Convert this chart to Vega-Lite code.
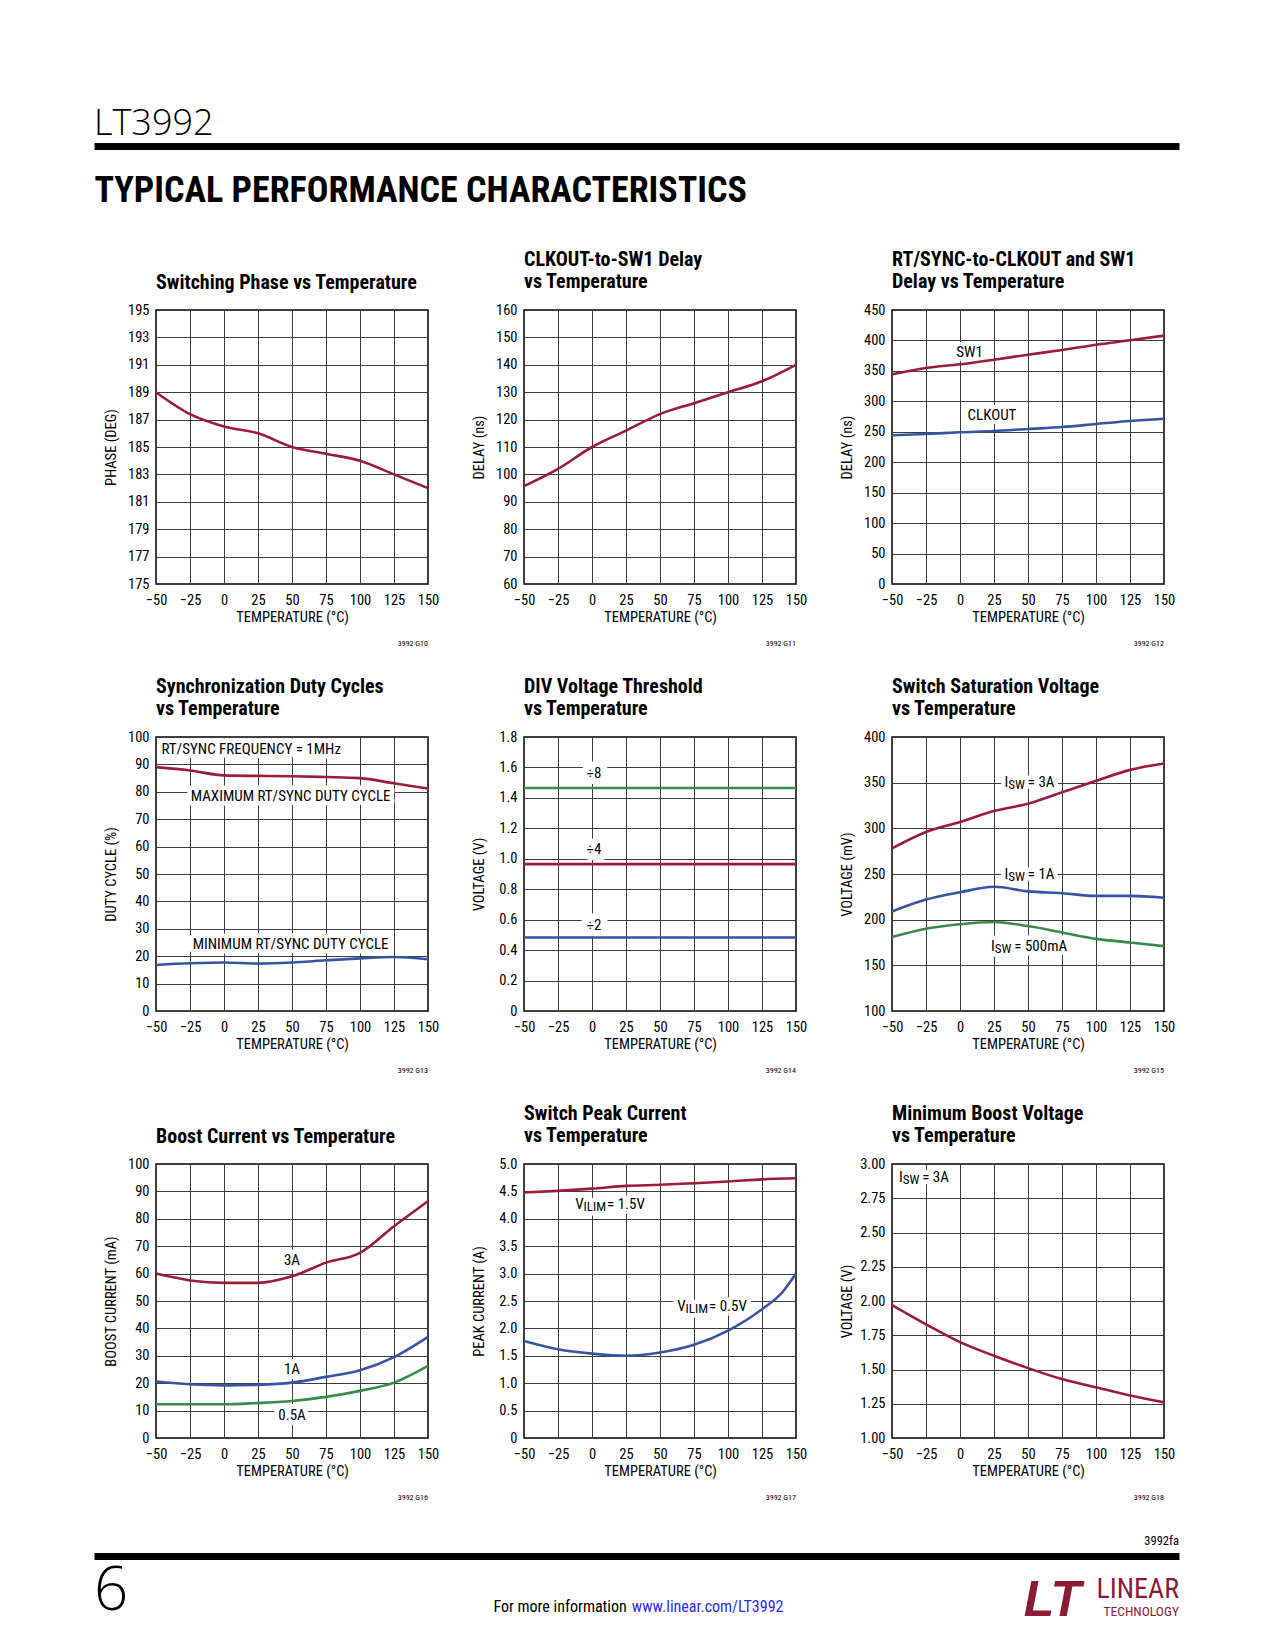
{
  "$schema": "https://vega.github.io/schema/vega-lite/v6.json",
  "background": "white",
  "padding": {"left": 94, "top": 106, "right": 10, "bottom": 10},
  "spacing": 41,
  "config": {
    "font": "Liberation Sans Narrow, Roboto Condensed, Noto Sans Condensed, DejaVu Sans Condensed, sans-serif",
    "view": {"stroke": "#000000", "strokeWidth": 1.5},
    "axis": {"grid": true, "gridColor": "#3c3c3c", "gridWidth": 1, "domain": false, "ticks": false, "labelFontSize": 14.5, "labelColor": "#000000", "titleFontSize": 14.5, "titleFontWeight": "normal", "titleColor": "#000000", "labelOverlap": false, "labelFlush": false, "labelBound": false},
    "axisX": {"labelPadding": 9, "titlePadding": 4, "labelAngle": 0},
    "axisY": {"labelPadding": 7, "titlePadding": 3, "minExtent": 35, "maxExtent": 35},
    "title": {"anchor": "start", "frame": "group", "fontSize": 20, "fontWeight": "bold", "lineHeight": 22.6, "offset": 9.5, "color": "#000000"},
    "line": {"strokeWidth": 2.6, "interpolate": "monotone"},
    "text": {"fontSize": 15, "color": "#000000"}
  },
  "vconcat": [
    {
      "width": 1085, "height": 4,
      "view": {"stroke": null},
      "title": {"text": "LT3992", "font": "Open Sans", "fontWeight": 300, "fontSize": 36, "anchor": "start", "frame": "group", "offset": -1},
      "data": {"values": [{"page": 0}]},
      "mark": {"type": "point", "opacity": 0, "size": 0},
      "encoding": {
        "x": {"field": "page", "type": "quantitative", "scale": {"domain": [0, 1]},
          "axis": {"orient": "bottom", "grid": false, "labels": false, "ticks": false, "domain": true, "domainColor": "#000000", "domainWidth": 7, "title": "TYPICAL PERFORMANCE CHARACTERISTICS", "titleFontSize": 36, "titleFontWeight": "bold", "titleAnchor": "start", "titleAlign": "left", "titlePadding": 27, "minExtent": 0, "maxExtent": 0}}
      }
    },
    {
      "vconcat": [
        {
          "hconcat": [
            {"width": 1, "height": 1, "view": {"stroke": null}, "data": {"values": [{"s": 0}]}, "mark": {"type": "point", "opacity": 0, "size": 0}, "encoding": {}},
            {
              "concat": [
                {
                  "width": 272, "height": 274,
                  "title": {"text": ["Switching Phase vs Temperature"]},
                  "encoding": {
                    "x": {"field": "t", "type": "quantitative", "scale": {"domain": [-50, 150], "nice": false}, "axis": {"values": [-50, -25, 0, 25, 50, 75, 100, 125, 150], "title": "TEMPERATURE (°C)"}},
                    "y": {"field": "v", "type": "quantitative", "scale": {"domain": [175, 195], "nice": false, "zero": false}, "axis": {"values": [175, 177, 179, 181, 183, 185, 187, 189, 191, 193, 195], "title": "PHASE (DEG)"}}
                  },
                  "layer": [
                    {"data": {"values": [{"t": -50, "v": 189}, {"t": -25, "v": 187.4}, {"t": 0, "v": 186.5}, {"t": 25, "v": 186}, {"t": 50, "v": 185}, {"t": 75, "v": 184.5}, {"t": 100, "v": 184}, {"t": 125, "v": 183}, {"t": 150, "v": 182}]},
                      "mark": {"type": "line", "color": "#9b1b3b"}},
                    {"data": {"values": [{"t": 150, "v": 175, "code": "3992 G10"}]}, "mark": {"type": "text", "align": "right", "baseline": "middle", "fontSize": 8, "dy": 60},
                      "encoding": {"text": {"field": "code"}}}
                  ]
                },
                {
                  "width": 272, "height": 274,
                  "title": {"text": ["CLKOUT-to-SW1 Delay", "vs Temperature"]},
                  "encoding": {
                    "x": {"field": "t", "type": "quantitative", "scale": {"domain": [-50, 150], "nice": false}, "axis": {"values": [-50, -25, 0, 25, 50, 75, 100, 125, 150], "title": "TEMPERATURE (°C)"}},
                    "y": {"field": "v", "type": "quantitative", "scale": {"domain": [60, 160], "nice": false, "zero": false}, "axis": {"values": [60, 70, 80, 90, 100, 110, 120, 130, 140, 150, 160], "title": "DELAY (ns)"}}
                  },
                  "layer": [
                    {"data": {"values": [{"t": -50, "v": 95.7}, {"t": -25, "v": 102}, {"t": 0, "v": 110}, {"t": 25, "v": 116}, {"t": 50, "v": 122}, {"t": 75, "v": 126}, {"t": 100, "v": 130}, {"t": 125, "v": 134}, {"t": 150, "v": 140}]},
                      "mark": {"type": "line", "color": "#9b1b3b"}},
                    {"data": {"values": [{"t": 150, "v": 60, "code": "3992 G11"}]}, "mark": {"type": "text", "align": "right", "baseline": "middle", "fontSize": 8, "dy": 60},
                      "encoding": {"text": {"field": "code"}}}
                  ]
                },
                {
                  "width": 272, "height": 274,
                  "title": {"text": ["RT/SYNC-to-CLKOUT and SW1", "Delay vs Temperature"]},
                  "encoding": {
                    "x": {"field": "t", "type": "quantitative", "scale": {"domain": [-50, 150], "nice": false}, "axis": {"values": [-50, -25, 0, 25, 50, 75, 100, 125, 150], "title": "TEMPERATURE (°C)"}},
                    "y": {"field": "v", "type": "quantitative", "scale": {"domain": [0, 450], "nice": false}, "axis": {"values": [0, 50, 100, 150, 200, 250, 300, 350, 400, 450], "title": "DELAY (ns)"}}
                  },
                  "layer": [
                    {"data": {"values": [{"t": 7, "v": 380.5, "label": "SW1"}, {"t": 23.5, "v": 278, "label": "CLKOUT"}]},
                      "mark": {"type": "text", "baseline": "middle", "color": "white", "stroke": "white", "strokeWidth": 8, "strokeJoin": "round"},
                      "encoding": {"text": {"field": "label"}}},
                    {"data": {"values": [
                      {"s": "SW1", "t": -50, "v": 344.4}, {"s": "SW1", "t": -25, "v": 354.7}, {"s": "SW1", "t": 0, "v": 360.8}, {"s": "SW1", "t": 25, "v": 368.4}, {"s": "SW1", "t": 50, "v": 376.6}, {"s": "SW1", "t": 75, "v": 384.3}, {"s": "SW1", "t": 100, "v": 393}, {"s": "SW1", "t": 125, "v": 400.2}, {"s": "SW1", "t": 150, "v": 408},
                      {"s": "CLKOUT", "t": -50, "v": 244.2}, {"s": "CLKOUT", "t": -25, "v": 246.3}, {"s": "CLKOUT", "t": 0, "v": 249.1}, {"s": "CLKOUT", "t": 25, "v": 251.3}, {"s": "CLKOUT", "t": 50, "v": 254.6}, {"s": "CLKOUT", "t": 75, "v": 257.8}, {"s": "CLKOUT", "t": 100, "v": 262.8}, {"s": "CLKOUT", "t": 125, "v": 267.7}, {"s": "CLKOUT", "t": 150, "v": 271.5}]},
                      "mark": {"type": "line"},
                      "encoding": {"color": {"field": "s", "type": "nominal", "scale": {"domain": ["SW1", "CLKOUT"], "range": ["#9b1b3b", "#3852a4"]}, "legend": null}}},
                    {"data": {"values": [{"t": 7, "v": 380.5, "label": "SW1"}, {"t": 23.5, "v": 278, "label": "CLKOUT"}]},
                      "mark": {"type": "text", "baseline": "middle"},
                      "encoding": {"text": {"field": "label"}}},
                    {"data": {"values": [{"t": 150, "v": 0, "code": "3992 G12"}]}, "mark": {"type": "text", "align": "right", "baseline": "middle", "fontSize": 8, "dy": 60},
                      "encoding": {"text": {"field": "code"}}}
                  ]
                },
                {
                  "width": 272, "height": 274,
                  "title": {"text": ["Synchronization Duty Cycles", "vs Temperature"]},
                  "encoding": {
                    "x": {"field": "t", "type": "quantitative", "scale": {"domain": [-50, 150], "nice": false}, "axis": {"values": [-50, -25, 0, 25, 50, 75, 100, 125, 150], "title": "TEMPERATURE (°C)"}},
                    "y": {"field": "v", "type": "quantitative", "scale": {"domain": [0, 100], "nice": false}, "axis": {"values": [0, 10, 20, 30, 40, 50, 60, 70, 80, 90, 100], "title": "DUTY CYCLE (%)"}}
                  },
                  "layer": [
                    {"data": {"values": [{"t": -46, "v": 95.6, "label": "RT/SYNC FREQUENCY = 1MHz"}]},
                      "mark": {"type": "text", "align": "left", "baseline": "middle", "color": "white", "stroke": "white", "strokeWidth": 9, "strokeJoin": "round"},
                      "encoding": {"text": {"field": "label"}}},
                    {"data": {"values": [{"t": 49, "v": 78.4, "label": "MAXIMUM RT/SYNC DUTY CYCLE"}, {"t": 49, "v": 24.6, "label": "MINIMUM RT/SYNC DUTY CYCLE"}]},
                      "mark": {"type": "text", "baseline": "middle", "color": "white", "stroke": "white", "strokeWidth": 9, "strokeJoin": "round"},
                      "encoding": {"text": {"field": "label"}}},
                    {"data": {"values": [
                      {"s": "MAX", "t": -50, "v": 89}, {"s": "MAX", "t": -25, "v": 87.8}, {"s": "MAX", "t": 0, "v": 86}, {"s": "MAX", "t": 25, "v": 85.8}, {"s": "MAX", "t": 50, "v": 85.7}, {"s": "MAX", "t": 75, "v": 85.4}, {"s": "MAX", "t": 100, "v": 85}, {"s": "MAX", "t": 125, "v": 83.1}, {"s": "MAX", "t": 150, "v": 81.2},
                      {"s": "MIN", "t": -50, "v": 16.8}, {"s": "MIN", "t": -25, "v": 17.4}, {"s": "MIN", "t": 0, "v": 17.7}, {"s": "MIN", "t": 25, "v": 17.3}, {"s": "MIN", "t": 50, "v": 17.7}, {"s": "MIN", "t": 75, "v": 18.5}, {"s": "MIN", "t": 100, "v": 19.2}, {"s": "MIN", "t": 125, "v": 19.7}, {"s": "MIN", "t": 150, "v": 18.9}]},
                      "mark": {"type": "line"},
                      "encoding": {"color": {"field": "s", "type": "nominal", "scale": {"domain": ["MAX", "MIN"], "range": ["#9b1b3b", "#3852a4"]}, "legend": null}}},
                    {"data": {"values": [{"t": -46, "v": 95.6, "label": "RT/SYNC FREQUENCY = 1MHz"}]},
                      "mark": {"type": "text", "align": "left", "baseline": "middle"},
                      "encoding": {"text": {"field": "label"}}},
                    {"data": {"values": [{"t": 49, "v": 78.4, "label": "MAXIMUM RT/SYNC DUTY CYCLE"}, {"t": 49, "v": 24.6, "label": "MINIMUM RT/SYNC DUTY CYCLE"}]},
                      "mark": {"type": "text", "baseline": "middle"},
                      "encoding": {"text": {"field": "label"}}},
                    {"data": {"values": [{"t": 150, "v": 0, "code": "3992 G13"}]}, "mark": {"type": "text", "align": "right", "baseline": "middle", "fontSize": 8, "dy": 60},
                      "encoding": {"text": {"field": "code"}}}
                  ]
                },
                {
                  "width": 272, "height": 274,
                  "title": {"text": ["DIV Voltage Threshold", "vs Temperature"]},
                  "encoding": {
                    "x": {"field": "t", "type": "quantitative", "scale": {"domain": [-50, 150], "nice": false}, "axis": {"values": [-50, -25, 0, 25, 50, 75, 100, 125, 150], "title": "TEMPERATURE (°C)"}},
                    "y": {"field": "v", "type": "quantitative", "scale": {"domain": [0, 1.8], "nice": false}, "axis": {"values": [0, 0.2, 0.4, 0.6, 0.8, 1, 1.2, 1.4, 1.6, 1.8], "labelExpr": "datum.value == 0 ? '0' : format(datum.value, '.1f')", "title": "VOLTAGE (V)"}}
                  },
                  "layer": [
                    {"data": {"values": [{"t": 1.5, "v": 1.566, "label": "÷8"}, {"t": 1.5, "v": 1.061, "label": "÷4"}, {"t": 1.5, "v": 0.566, "label": "÷2"}]},
                      "mark": {"type": "text", "baseline": "middle", "color": "white", "stroke": "white", "strokeWidth": 14, "strokeJoin": "round"},
                      "encoding": {"text": {"field": "label"}}},
                    {"data": {"values": [
                      {"s": "div8", "t": -50, "v": 1.465}, {"s": "div8", "t": 150, "v": 1.465},
                      {"s": "div4", "t": -50, "v": 0.965}, {"s": "div4", "t": 150, "v": 0.965},
                      {"s": "div2", "t": -50, "v": 0.483}, {"s": "div2", "t": 150, "v": 0.483}]},
                      "mark": {"type": "line"},
                      "encoding": {"color": {"field": "s", "type": "nominal", "scale": {"domain": ["div8", "div4", "div2"], "range": ["#3a8a4c", "#9b1b3b", "#3852a4"]}, "legend": null}}},
                    {"data": {"values": [{"t": 1.5, "v": 1.566, "label": "÷8"}, {"t": 1.5, "v": 1.061, "label": "÷4"}, {"t": 1.5, "v": 0.566, "label": "÷2"}]},
                      "mark": {"type": "text", "baseline": "middle"},
                      "encoding": {"text": {"field": "label"}}},
                    {"data": {"values": [{"t": 150, "v": 0, "code": "3992 G14"}]}, "mark": {"type": "text", "align": "right", "baseline": "middle", "fontSize": 8, "dy": 60},
                      "encoding": {"text": {"field": "code"}}}
                  ]
                },
                {
                  "width": 272, "height": 274,
                  "title": {"text": ["Switch Saturation Voltage", "vs Temperature"]},
                  "encoding": {
                    "x": {"field": "t", "type": "quantitative", "scale": {"domain": [-50, 150], "nice": false}, "axis": {"values": [-50, -25, 0, 25, 50, 75, 100, 125, 150], "title": "TEMPERATURE (°C)"}},
                    "y": {"field": "v", "type": "quantitative", "scale": {"domain": [100, 400], "nice": false, "zero": false}, "axis": {"values": [100, 150, 200, 250, 300, 350, 400], "title": "VOLTAGE (mV)"}}
                  },
                  "layer": [
                    {"data": {"values": [{"t": 35.5, "v": 350.4, "main": "I", "sub": "SW", "rest": " = 3A"}, {"t": 35.5, "v": 250.3, "main": "I", "sub": "SW", "rest": " = 1A"}, {"t": 25.6, "v": 171.5, "main": "I", "sub": "SW", "rest": " = 500mA"}]},
                      "layer": [
                        {"mark": {"type": "text", "align": "right", "baseline": "middle", "color": "white", "stroke": "white", "strokeWidth": 9, "strokeJoin": "round"}, "encoding": {"text": {"field": "main"}}},
                        {"mark": {"type": "text", "align": "left", "baseline": "middle", "fontSize": 13, "dy": 3, "color": "white", "stroke": "white", "strokeWidth": 9, "strokeJoin": "round"}, "encoding": {"text": {"field": "sub"}}},
                        {"mark": {"type": "text", "align": "left", "baseline": "middle", "dx": 19.5, "color": "white", "stroke": "white", "strokeWidth": 9, "strokeJoin": "round"}, "encoding": {"text": {"field": "rest"}}}
                      ]},
                    {"data": {"values": [
                      {"s": "3A", "t": -50, "v": 278}, {"s": "3A", "t": -25, "v": 296}, {"s": "3A", "t": 0, "v": 307}, {"s": "3A", "t": 25, "v": 319}, {"s": "3A", "t": 50, "v": 327}, {"s": "3A", "t": 75, "v": 339.5}, {"s": "3A", "t": 100, "v": 352}, {"s": "3A", "t": 125, "v": 364}, {"s": "3A", "t": 150, "v": 371},
                      {"s": "1A", "t": -50, "v": 209}, {"s": "1A", "t": -25, "v": 222}, {"s": "1A", "t": 0, "v": 230}, {"s": "1A", "t": 25, "v": 236}, {"s": "1A", "t": 50, "v": 231}, {"s": "1A", "t": 75, "v": 229}, {"s": "1A", "t": 100, "v": 226}, {"s": "1A", "t": 125, "v": 226}, {"s": "1A", "t": 150, "v": 224},
                      {"s": "500mA", "t": -50, "v": 181}, {"s": "500mA", "t": -25, "v": 190}, {"s": "500mA", "t": 0, "v": 195}, {"s": "500mA", "t": 25, "v": 197.5}, {"s": "500mA", "t": 50, "v": 193}, {"s": "500mA", "t": 75, "v": 186}, {"s": "500mA", "t": 100, "v": 179}, {"s": "500mA", "t": 125, "v": 175}, {"s": "500mA", "t": 150, "v": 171}]},
                      "mark": {"type": "line"},
                      "encoding": {"color": {"field": "s", "type": "nominal", "scale": {"domain": ["3A", "1A", "500mA"], "range": ["#9b1b3b", "#3852a4", "#3a8a4c"]}, "legend": null}}},
                    {"data": {"values": [{"t": 35.5, "v": 350.4, "main": "I", "sub": "SW", "rest": " = 3A"}, {"t": 35.5, "v": 250.3, "main": "I", "sub": "SW", "rest": " = 1A"}, {"t": 25.6, "v": 171.5, "main": "I", "sub": "SW", "rest": " = 500mA"}]},
                      "layer": [
                        {"mark": {"type": "text", "align": "right", "baseline": "middle"}, "encoding": {"text": {"field": "main"}}},
                        {"mark": {"type": "text", "align": "left", "baseline": "middle", "fontSize": 13, "dy": 3}, "encoding": {"text": {"field": "sub"}}},
                        {"mark": {"type": "text", "align": "left", "baseline": "middle", "dx": 19.5}, "encoding": {"text": {"field": "rest"}}}
                      ]},
                    {"data": {"values": [{"t": 150, "v": 100, "code": "3992 G15"}]}, "mark": {"type": "text", "align": "right", "baseline": "middle", "fontSize": 8, "dy": 60},
                      "encoding": {"text": {"field": "code"}}}
                  ]
                },
                {
                  "width": 272, "height": 274,
                  "title": {"text": ["Boost Current vs Temperature"]},
                  "encoding": {
                    "x": {"field": "t", "type": "quantitative", "scale": {"domain": [-50, 150], "nice": false}, "axis": {"values": [-50, -25, 0, 25, 50, 75, 100, 125, 150], "title": "TEMPERATURE (°C)"}},
                    "y": {"field": "v", "type": "quantitative", "scale": {"domain": [0, 100], "nice": false}, "axis": {"values": [0, 10, 20, 30, 40, 50, 60, 70, 80, 90, 100], "title": "BOOST CURRENT (mA)"}}
                  },
                  "layer": [
                    {"data": {"values": [{"t": 50, "v": 64.8, "label": "3A"}, {"t": 50, "v": 25.1, "label": "1A"}, {"t": 50, "v": 8.3, "label": "0.5A"}]},
                      "mark": {"type": "text", "baseline": "middle", "color": "white", "stroke": "white", "strokeWidth": 10, "strokeJoin": "round"},
                      "encoding": {"text": {"field": "label"}}},
                    {"data": {"values": [
                      {"s": "3A", "t": -50, "v": 60}, {"s": "3A", "t": -25, "v": 57.5}, {"s": "3A", "t": 0, "v": 56.6}, {"s": "3A", "t": 25, "v": 56.6}, {"s": "3A", "t": 50, "v": 59}, {"s": "3A", "t": 75, "v": 64}, {"s": "3A", "t": 100, "v": 67.6}, {"s": "3A", "t": 125, "v": 77.3}, {"s": "3A", "t": 150, "v": 86.4},
                      {"s": "1A", "t": -50, "v": 20.6}, {"s": "1A", "t": -25, "v": 19.6}, {"s": "1A", "t": 0, "v": 19.2}, {"s": "1A", "t": 25, "v": 19.4}, {"s": "1A", "t": 50, "v": 20.2}, {"s": "1A", "t": 75, "v": 22.3}, {"s": "1A", "t": 100, "v": 24.7}, {"s": "1A", "t": 125, "v": 29.5}, {"s": "1A", "t": 150, "v": 36.9},
                      {"s": "0.5A", "t": -50, "v": 12.3}, {"s": "0.5A", "t": -25, "v": 12.3}, {"s": "0.5A", "t": 0, "v": 12.3}, {"s": "0.5A", "t": 25, "v": 12.8}, {"s": "0.5A", "t": 50, "v": 13.5}, {"s": "0.5A", "t": 75, "v": 15}, {"s": "0.5A", "t": 100, "v": 17.2}, {"s": "0.5A", "t": 125, "v": 20.2}, {"s": "0.5A", "t": 150, "v": 26.3}]},
                      "mark": {"type": "line"},
                      "encoding": {"color": {"field": "s", "type": "nominal", "scale": {"domain": ["3A", "1A", "0.5A"], "range": ["#9b1b3b", "#3852a4", "#3a8a4c"]}, "legend": null}}},
                    {"data": {"values": [{"t": 50, "v": 64.8, "label": "3A"}, {"t": 50, "v": 25.1, "label": "1A"}, {"t": 50, "v": 8.3, "label": "0.5A"}]},
                      "mark": {"type": "text", "baseline": "middle"},
                      "encoding": {"text": {"field": "label"}}},
                    {"data": {"values": [{"t": 150, "v": 0, "code": "3992 G16"}]}, "mark": {"type": "text", "align": "right", "baseline": "middle", "fontSize": 8, "dy": 60},
                      "encoding": {"text": {"field": "code"}}}
                  ]
                },
                {
                  "width": 272, "height": 274,
                  "title": {"text": ["Switch Peak Current", "vs Temperature"]},
                  "encoding": {
                    "x": {"field": "t", "type": "quantitative", "scale": {"domain": [-50, 150], "nice": false}, "axis": {"values": [-50, -25, 0, 25, 50, 75, 100, 125, 150], "title": "TEMPERATURE (°C)"}},
                    "y": {"field": "v", "type": "quantitative", "scale": {"domain": [0, 5], "nice": false}, "axis": {"values": [0, 0.5, 1, 1.5, 2, 2.5, 3, 3.5, 4, 4.5, 5], "labelExpr": "datum.value == 0 ? '0' : format(datum.value, '.1f')", "title": "PEAK CURRENT (A)"}}
                  },
                  "layer": [
                    {"data": {"values": [{"t": -6.2, "v": 4.27, "main": "V", "sub": "ILIM", "rest": " = 1.5V"}, {"t": 68.8, "v": 2.41, "main": "V", "sub": "ILIM", "rest": " = 0.5V"}]},
                      "layer": [
                        {"mark": {"type": "text", "align": "right", "baseline": "middle", "color": "white", "stroke": "white", "strokeWidth": 9, "strokeJoin": "round"}, "encoding": {"text": {"field": "main"}}},
                        {"mark": {"type": "text", "align": "left", "baseline": "middle", "fontSize": 13, "dy": 3, "color": "white", "stroke": "white", "strokeWidth": 9, "strokeJoin": "round"}, "encoding": {"text": {"field": "sub"}}},
                        {"mark": {"type": "text", "align": "left", "baseline": "middle", "dx": 23.5, "color": "white", "stroke": "white", "strokeWidth": 9, "strokeJoin": "round"}, "encoding": {"text": {"field": "rest"}}}
                      ]},
                    {"data": {"values": [
                      {"s": "1.5V", "t": -50, "v": 4.48}, {"s": "1.5V", "t": -25, "v": 4.51}, {"s": "1.5V", "t": 0, "v": 4.55}, {"s": "1.5V", "t": 25, "v": 4.6}, {"s": "1.5V", "t": 50, "v": 4.62}, {"s": "1.5V", "t": 75, "v": 4.65}, {"s": "1.5V", "t": 100, "v": 4.68}, {"s": "1.5V", "t": 125, "v": 4.72}, {"s": "1.5V", "t": 150, "v": 4.74},
                      {"s": "0.5V", "t": -50, "v": 1.77}, {"s": "0.5V", "t": -25, "v": 1.62}, {"s": "0.5V", "t": 0, "v": 1.54}, {"s": "0.5V", "t": 25, "v": 1.5}, {"s": "0.5V", "t": 50, "v": 1.56}, {"s": "0.5V", "t": 75, "v": 1.7}, {"s": "0.5V", "t": 100, "v": 1.96}, {"s": "0.5V", "t": 125, "v": 2.35}, {"s": "0.5V", "t": 140, "v": 2.66}, {"s": "0.5V", "t": 150, "v": 3.0}]},
                      "mark": {"type": "line"},
                      "encoding": {"color": {"field": "s", "type": "nominal", "scale": {"domain": ["1.5V", "0.5V"], "range": ["#9b1b3b", "#3852a4"]}, "legend": null}}},
                    {"data": {"values": [{"t": -6.2, "v": 4.27, "main": "V", "sub": "ILIM", "rest": " = 1.5V"}, {"t": 68.8, "v": 2.41, "main": "V", "sub": "ILIM", "rest": " = 0.5V"}]},
                      "layer": [
                        {"mark": {"type": "text", "align": "right", "baseline": "middle"}, "encoding": {"text": {"field": "main"}}},
                        {"mark": {"type": "text", "align": "left", "baseline": "middle", "fontSize": 13, "dy": 3}, "encoding": {"text": {"field": "sub"}}},
                        {"mark": {"type": "text", "align": "left", "baseline": "middle", "dx": 23.5}, "encoding": {"text": {"field": "rest"}}}
                      ]},
                    {"data": {"values": [{"t": 150, "v": 0, "code": "3992 G17"}]}, "mark": {"type": "text", "align": "right", "baseline": "middle", "fontSize": 8, "dy": 60},
                      "encoding": {"text": {"field": "code"}}}
                  ]
                },
                {
                  "width": 272, "height": 274,
                  "title": {"text": ["Minimum Boost Voltage", "vs Temperature"]},
                  "encoding": {
                    "x": {"field": "t", "type": "quantitative", "scale": {"domain": [-50, 150], "nice": false}, "axis": {"values": [-50, -25, 0, 25, 50, 75, 100, 125, 150], "title": "TEMPERATURE (°C)"}},
                    "y": {"field": "v", "type": "quantitative", "scale": {"domain": [1, 3], "nice": false, "zero": false}, "axis": {"values": [1, 1.25, 1.5, 1.75, 2, 2.25, 2.5, 2.75, 3], "format": ".2f", "title": "VOLTAGE (V)"}}
                  },
                  "layer": [
                    {"data": {"values": [{"t": -42.1, "v": 2.905, "main": "I", "sub": "SW", "rest": " = 3A"}]},
                      "layer": [
                        {"mark": {"type": "text", "align": "right", "baseline": "middle", "color": "white", "stroke": "white", "strokeWidth": 10, "strokeJoin": "round"}, "encoding": {"text": {"field": "main"}}},
                        {"mark": {"type": "text", "align": "left", "baseline": "middle", "fontSize": 13, "dy": 3, "color": "white", "stroke": "white", "strokeWidth": 10, "strokeJoin": "round"}, "encoding": {"text": {"field": "sub"}}},
                        {"mark": {"type": "text", "align": "left", "baseline": "middle", "dx": 19.5, "color": "white", "stroke": "white", "strokeWidth": 10, "strokeJoin": "round"}, "encoding": {"text": {"field": "rest"}}}
                      ]},
                    {"data": {"values": [{"t": -50, "v": 1.97}, {"t": -25, "v": 1.83}, {"t": 0, "v": 1.7}, {"t": 25, "v": 1.6}, {"t": 50, "v": 1.51}, {"t": 75, "v": 1.43}, {"t": 100, "v": 1.37}, {"t": 125, "v": 1.31}, {"t": 150, "v": 1.26}]},
                      "mark": {"type": "line", "color": "#9b1b3b"}},
                    {"data": {"values": [{"t": -42.1, "v": 2.905, "main": "I", "sub": "SW", "rest": " = 3A"}]},
                      "layer": [
                        {"mark": {"type": "text", "align": "right", "baseline": "middle"}, "encoding": {"text": {"field": "main"}}},
                        {"mark": {"type": "text", "align": "left", "baseline": "middle", "fontSize": 13, "dy": 3}, "encoding": {"text": {"field": "sub"}}},
                        {"mark": {"type": "text", "align": "left", "baseline": "middle", "dx": 19.5}, "encoding": {"text": {"field": "rest"}}}
                      ]},
                    {"data": {"values": [{"t": 150, "v": 1, "code": "3992 G18"}]}, "mark": {"type": "text", "align": "right", "baseline": "middle", "fontSize": 8, "dy": 60},
                      "encoding": {"text": {"field": "code"}}}
                  ]
                }
              ],
              "columns": 3,
              "spacing": {"row": 153, "column": 96},
              "bounds": "flush",
              "resolve": {"scale": {"color": "independent"}}
            }
          ],
          "spacing": 7
        },
        {
          "width": 1085, "height": 60,
          "view": {"stroke": null},
          "title": {"text": "3992fa", "anchor": "end", "frame": "group", "fontSize": 12.5, "fontWeight": "normal", "offset": 8.5},
          "encoding": {
            "x": {"field": "slot", "type": "nominal", "scale": {"type": "point", "domain": ["left", "center", "right"], "padding": 0},
              "axis": {"orient": "top", "grid": false, "labels": false, "ticks": false, "domain": true, "domainColor": "#000000", "domainWidth": 7, "title": null, "offset": 0, "minExtent": 0, "maxExtent": 0}}
          },
          "layer": [
            {"data": {"values": [{"slot": "left", "text": "6"}]}, "mark": {"type": "text", "align": "left", "baseline": "alphabetic", "font": "Open Sans", "fontWeight": 300, "fontSize": 60, "dy": 23.5}, "encoding": {"text": {"field": "text"}}},
            {"data": {"values": [{"slot": "center", "text": "For more information"}]}, "mark": {"type": "text", "align": "right", "baseline": "alphabetic", "fontSize": 16, "dx": -9.7, "dy": 26}, "encoding": {"text": {"field": "text"}}},
            {"data": {"values": [{"slot": "center", "text": "www.linear.com/LT3992"}]}, "mark": {"type": "text", "align": "left", "baseline": "alphabetic", "fontSize": 16, "dx": -4.7, "dy": 26, "color": "#2b2bf0"}, "encoding": {"text": {"field": "text"}}},
            {"data": {"values": [{"slot": "right", "text": "LINEAR"}]}, "mark": {"type": "text", "align": "right", "baseline": "alphabetic", "fontSize": 28, "dy": 12, "color": "#8c1c32"}, "encoding": {"text": {"field": "text"}}},
            {"data": {"values": [{"slot": "right", "text": "TECHNOLOGY"}]}, "mark": {"type": "text", "align": "right", "baseline": "alphabetic", "fontSize": 13.5, "dy": 30, "color": "#8c1c32"}, "encoding": {"text": {"field": "text"}}},
            {"data": {"values": [{"slot": "right", "text": "LT"}]}, "mark": {"type": "text", "align": "right", "baseline": "alphabetic", "font": "Liberation Sans", "fontWeight": "bold", "fontStyle": "italic", "fontSize": 50, "dx": -98, "dy": 29.5, "color": "#8c1c32"}, "encoding": {"text": {"field": "text"}}}
          ]
        }
      ],
      "spacing": 32
    }
  ]
}
